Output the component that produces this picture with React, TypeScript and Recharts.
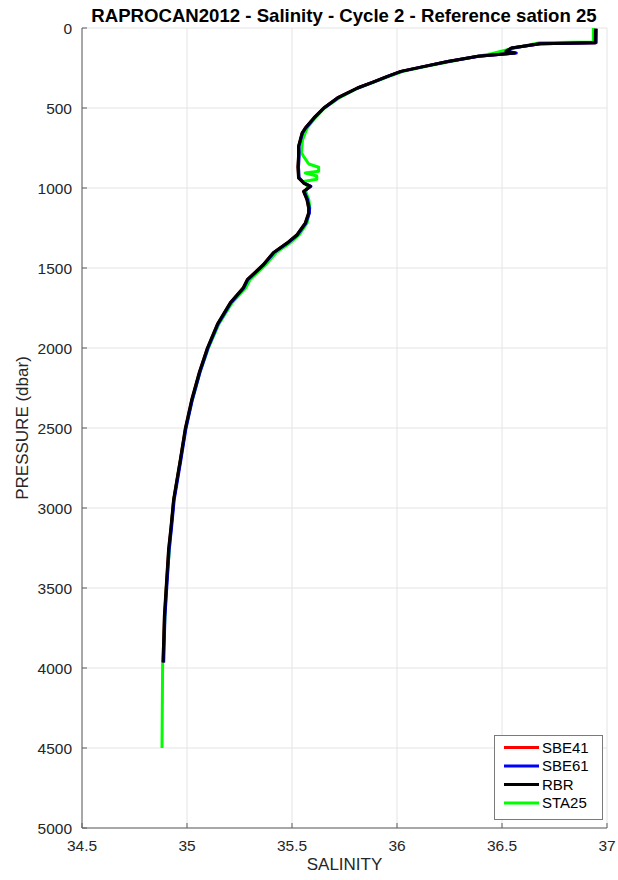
import { ScatterChart, Scatter, XAxis, YAxis, CartesianGrid } from 'recharts';

// pressure levels shared by the three float sensors (dbar)
const floatPressure = [5, 92, 98, 125, 146, 156, 177, 209, 240, 271, 302, 340, 375, 437, 500, 562, 625, 656, 740, 800, 870, 937, 969, 990, 1021, 1073, 1125, 1156, 1219, 1292, 1344, 1404, 1479, 1573, 1623, 1717, 1850, 2000, 2150, 2325, 2502, 2698, 2948, 3115, 3261, 3490, 3677, 3965];

const sbe41Salinity = [36.95, 36.949, 36.682, 36.546, 36.521, 36.562, 36.386, 36.242, 36.131, 36.019, 35.955, 35.883, 35.812, 35.717, 35.652, 35.605, 35.564, 35.549, 35.532, 35.532, 35.529, 35.532, 35.556, 35.588, 35.556, 35.572, 35.58, 35.58, 35.564, 35.525, 35.477, 35.412, 35.364, 35.288, 35.269, 35.207, 35.146, 35.098, 35.06, 35.023, 34.993, 34.969, 34.937, 34.925, 34.913, 34.902, 34.893, 34.887];

const sbe61Salinity = [36.947, 36.946, 36.683, 36.548, 36.523, 36.568, 36.389, 36.243, 36.132, 36.02, 35.956, 35.884, 35.813, 35.718, 35.653, 35.606, 35.566, 35.55, 35.533, 35.534, 35.531, 35.534, 35.558, 35.59, 35.558, 35.574, 35.583, 35.583, 35.566, 35.527, 35.479, 35.414, 35.366, 35.29, 35.271, 35.209, 35.148, 35.1, 35.062, 35.025, 34.995, 34.971, 34.939, 34.927, 34.915, 34.904, 34.895, 34.889];

const rbrSalinity = [36.945, 36.944, 36.68, 36.544, 36.519, 36.561, 36.385, 36.241, 36.13, 36.018, 35.954, 35.882, 35.811, 35.716, 35.651, 35.604, 35.563, 35.548, 35.531, 35.531, 35.528, 35.531, 35.555, 35.587, 35.555, 35.571, 35.579, 35.579, 35.563, 35.524, 35.476, 35.411, 35.363, 35.287, 35.268, 35.206, 35.145, 35.097, 35.059, 35.022, 34.992, 34.968, 34.936, 34.924, 34.912, 34.901, 34.892, 34.886];

// reference CTD station 25
const sta25Pressure = [0, 88, 92, 125, 160, 209, 240, 271, 302, 375, 437, 500, 562, 625, 700, 780, 802, 850, 870, 895, 906, 925, 945, 959, 990, 1021, 1073, 1125, 1219, 1292, 1344, 1404, 1479, 1573, 1623, 1717, 1850, 2000, 2150, 2325, 2502, 2698, 2948, 3115, 3490, 3970, 4500];
const sta25Salinity = [36.935, 36.935, 36.68, 36.56, 36.45, 36.255, 36.14, 36.03, 35.962, 35.815, 35.724, 35.655, 35.61, 35.572, 35.55, 35.545, 35.555, 35.58, 35.627, 35.627, 35.563, 35.618, 35.618, 35.555, 35.575, 35.565, 35.58, 35.585, 35.572, 35.535, 35.49, 35.425, 35.375, 35.3, 35.28, 35.215, 35.152, 35.102, 35.062, 35.025, 34.994, 34.969, 34.937, 34.925, 34.902, 34.884, 34.881];

const salinityTicks = [34.5, 35, 35.5, 36, 36.5, 37];
const pressureTicks = [0, 500, 1000, 1500, 2000, 2500, 3000, 3500, 4000, 4500, 5000];

const legendItems = [
  { name: 'SBE41', color: '#ff0000' },
  { name: 'SBE61', color: '#0000ff' },
  { name: 'RBR', color: '#000000' },
  { name: 'STA25', color: '#00ff00' },
];

const toPoints = (pres: number[], sal: number[]) => pres.map((p, i) => ({ s: sal[i], p }));

const FONT = '"Liberation Sans", Arial, Helvetica, sans-serif';
const noDot = () => <g />;

export default function App() {
  const lineStyle = (color: string) => ({ stroke: color, strokeWidth: 3, strokeLinejoin: 'round' as const });

  return (
    <div style={{ position: 'absolute', left: 0, top: 0, width: 618, height: 880, background: '#fff', fontFamily: FONT }}>
      <ScatterChart width={618} height={880} margin={{ top: 28, right: 11, bottom: 0, left: 0 }} style={{ fontFamily: FONT }}>
        <CartesianGrid stroke="#e4e4e4" strokeWidth={1} />
        <XAxis
          type="number"
          dataKey="s"
          domain={[34.5, 37]}
          ticks={salinityTicks}
          interval={0}
          allowDataOverflow
          height={52}
          tickSize={-5}
          tickMargin={17}
          stroke="#5e5e5e"
          tick={{ fontSize: 15.5, fill: '#262626' }}
          label={{ value: 'SALINITY', position: 'center', dy: 10, fontSize: 17, fill: '#262626' }}
        />
        <YAxis
          type="number"
          dataKey="p"
          domain={[0, 5000]}
          reversed
          ticks={pressureTicks}
          interval={0}
          allowDataOverflow
          width={82}
          tickSize={-5}
          tickMargin={15}
          stroke="#5e5e5e"
          tick={{ fontSize: 15.5, fill: '#262626' }}
          label={{ value: 'PRESSURE (dbar)', angle: -90, position: 'center', dx: -19, fontSize: 17, fill: '#262626' }}
        />
        <Scatter name="STA25" data={toPoints(sta25Pressure, sta25Salinity)} line={lineStyle('#00ff00')} shape={noDot} isAnimationActive={false} />
        <Scatter name="SBE41" data={toPoints(floatPressure, sbe41Salinity)} line={lineStyle('#ff0000')} shape={noDot} isAnimationActive={false} />
        <Scatter name="SBE61" data={toPoints(floatPressure, sbe61Salinity)} line={lineStyle('#0000ff')} shape={noDot} isAnimationActive={false} />
        <Scatter name="RBR" data={toPoints(floatPressure, rbrSalinity)} line={lineStyle('#000000')} shape={noDot} isAnimationActive={false} />
      </ScatterChart>

      <div
        style={{
          position: 'absolute',
          left: 344,
          top: 5,
          transform: 'translateX(-50%)',
          whiteSpace: 'nowrap',
          fontWeight: 'bold',
          fontSize: 18.6,
          color: '#000',
        }}
      >
        RAPROCAN2012 - Salinity - Cycle 2 - Reference sation 25
      </div>

      <svg
        width={109}
        height={85}
        style={{ position: 'absolute', left: 494, top: 735, background: '#fff', border: '1px solid #7a7a7a', boxSizing: 'border-box' }}
      >
        {legendItems.map((item, i) => {
          const y = 11.5 + i * 18.5;
          return (
            <g key={item.name}>
              <line x1={9} x2={44} y1={y} y2={y} stroke={item.color} strokeWidth={3} />
              <text x={47} y={y} dy="0.36em" fontSize={15} fill="#000" fontFamily={FONT}>
                {item.name}
              </text>
            </g>
          );
        })}
      </svg>
    </div>
  );
}
